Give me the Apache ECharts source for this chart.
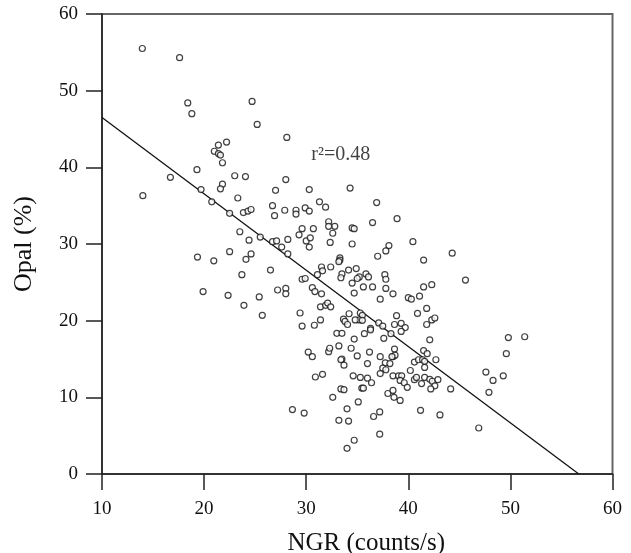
<!DOCTYPE html>
<html><head><meta charset="utf-8">
<script src="https://cdn.jsdelivr.net/npm/echarts@6/dist/echarts.min.js"></script>
<style>html,body{margin:0;padding:0;background:#fff}#c{width:631px;height:553px}</style>
</head><body><div id="c"></div>
<script>
const ngr = [13.95,17.6,18.4,18.8,24.7,25.2,28.1,22.2,21.4,21.0,21.4,21.6,21.8,19.3,
16.7,23.0,24.05,28.0,21.8,21.6,27.0,14.0,19.7,23.3,20.75,26.7,27.9,26.9,22.5,23.85,24.3,24.6,23.5,24.4,25.5,26.7,27.1,28.2,27.6,28.2,19.35,20.95,22.5,24.1,24.6,26.5,23.7,19.9,22.35,23.9,25.4,27.2,28.0,28.0,25.7,
34.3,30.3,31.3,31.9,36.9,29.0,29.0,29.9,30.3,32.2,32.8,32.2,36.5,38.9,34.5,34.7,29.6,30.7,32.6,29.3,30.0,30.4,30.3,32.35,34.5,40.45,38.1,37.8,37.0,44.3,41.5,33.3,33.3,33.2,31.5,31.6,31.1,32.4,34.15,34.9,33.5,33.4,35.2,35.0,35.85,36.1,37.7,37.8,45.6,29.6,29.9,34.5,35.6,36.5,37.8,38.5,41.5,42.3,30.6,30.85,31.5,34.7,37.25,40.0,40.3,41.1,29.4,31.4,31.9,32.1,32.4,31.4,29.6,30.8,33.65,33.8,34.05,34.2,35.3,35.5,35.2,35.5,34.8,36.3,37.1,37.5,38.85,38.65,39.3,39.7,40.9,41.8,42.3,42.6,41.8,
49.8,51.4,49.6,47.6,48.3,49.3,47.9,46.9,
33.0,33.5,34.7,35.7,36.3,37.6,39.3,38.3,42.1,30.2,30.6,32.2,32.3,33.2,34.4,35.0,36.2,33.5,33.4,33.7,36.0,37.25,37.75,38.2,38.65,38.5,38.7,38.4,37.5,37.8,37.25,40.6,41.0,41.4,41.6,41.5,41.85,42.7,41.6,40.2,30.9,31.6,34.6,35.3,36.0,36.4,38.5,39.05,39.35,39.2,39.6,39.9,40.6,40.8,41.3,41.6,42.1,42.35,42.9,42.6,42.2,44.15,33.4,33.7,35.45,35.6,32.6,35.1,38.0,38.5,38.6,39.2,28.65,29.8,34.0,33.2,34.15,37.2,36.6,41.2,43.1,37.2,34.7,34.0];
const opal = [55.5,54.3,48.4,47.0,48.6,45.6,43.9,43.3,42.9,42.1,41.8,41.6,40.6,39.7,
38.7,38.9,38.8,38.4,37.8,37.2,37.0,36.3,37.1,36.0,35.5,35.0,34.4,33.7,34.0,34.1,34.3,34.5,31.6,30.5,30.9,30.3,30.4,30.6,29.6,28.7,28.3,27.8,29.0,28.0,28.7,26.6,26.0,23.8,23.3,22.0,23.1,24.0,24.2,23.5,20.7,
37.3,37.1,35.5,34.8,35.4,34.4,33.9,34.7,34.3,32.9,32.3,32.3,32.8,33.3,32.1,32.0,32.0,32.0,31.4,31.2,30.4,30.8,29.6,30.2,30.0,30.3,29.8,29.1,28.4,28.8,27.9,28.2,27.9,27.7,27.0,26.5,26.0,27.0,26.6,26.8,26.1,25.6,25.7,25.5,26.1,25.7,26.0,25.4,25.3,25.4,25.5,24.9,24.4,24.4,24.2,23.5,24.4,24.7,24.3,23.8,23.5,23.6,22.8,23.0,22.8,23.2,21.0,21.8,22.0,22.3,21.8,20.1,19.3,19.4,20.2,19.9,19.5,20.9,21.0,20.7,20.1,20.05,20.1,19.0,19.7,19.3,20.65,19.5,19.65,19.1,20.95,21.6,20.1,20.35,19.5,
17.8,17.9,15.7,13.3,12.2,12.8,10.65,6.0,
18.35,18.35,17.6,18.3,18.8,17.7,18.6,18.3,17.5,15.9,15.3,15.95,16.4,16.7,16.4,15.4,15.9,15.0,14.9,14.2,14.4,15.3,14.5,14.4,16.3,15.3,15.5,15.3,13.8,13.6,13.1,14.6,14.9,14.9,14.7,16.1,15.7,14.9,13.9,13.5,12.65,13.0,12.8,12.6,12.5,11.9,12.8,12.8,12.8,12.2,11.9,11.3,12.3,12.6,11.8,12.6,12.35,12.1,12.3,11.5,11.1,11.1,11.1,11.0,11.2,11.2,10.0,9.4,10.5,10.9,10.0,9.6,8.4,7.95,8.5,7.0,6.9,8.1,7.5,8.3,7.7,5.2,4.4,3.35];
const fitX = [10, 56.7];
const fitY = [46.5, 0];
const xTicks = [10,20,30,40,50,60];
const yTicks = [0,10,20,30,40,50,60];
const r2Label = 'r²=0.48';
const r2Pos = [30.6, 41.7];

const pts = ngr.map((x,i)=>[x, opal[i]]);
const line = fitX.map((x,i)=>[x, fitY[i]]);
const serif = '"Liberation Serif", "DejaVu Serif", serif';
const chart = echarts.init(document.getElementById('c'), null, {renderer:'canvas'});
chart.setOption({
  animation:false,
  backgroundColor:'#fff',
  grid:{left:102, right:18.5, top:14, bottom:79, show:true, borderColor:'#666', borderWidth:2,
    containLabel:false, outerBoundsMode:'none'},
  xAxis:{type:'value', min:xTicks[0], max:xTicks[xTicks.length-1], interval:10,
    name:'NGR (counts/s)', nameLocation:'middle', nameGap:57,
    nameTextStyle:{fontFamily:serif, fontSize:25, color:'#111', padding:[0,0,0,18]},
    axisLine:{lineStyle:{color:'#222', width:1.5}},
    axisTick:{inside:false, length:16, lineStyle:{color:'#222', width:1.5}},
    axisLabel:{fontFamily:serif, fontSize:19, color:'#111', margin:26},
    splitLine:{show:false}},
  yAxis:{type:'value', min:yTicks[0], max:yTicks[yTicks.length-1], interval:10,
    name:'Opal (%)', nameLocation:'middle', nameGap:65,
    nameTextStyle:{fontFamily:serif, fontSize:26, color:'#111'},
    axisLine:{lineStyle:{color:'#222', width:1.5}},
    axisTick:{inside:false, length:16, lineStyle:{color:'#222', width:1.5}},
    axisLabel:{fontFamily:serif, fontSize:19, color:'#111', margin:24},
    splitLine:{show:false}},
  series:[
    {type:'scatter', data:pts, symbol:'circle', symbolSize:6,
      itemStyle:{color:'#fff', borderColor:'#111', borderWidth:1.2}, z:3},
    {type:'line', data:line, symbol:'none', lineStyle:{color:'#111', width:1.3}, z:2},
    {type:'scatter', data:[r2Pos], symbolSize:0,
      label:{show:true, formatter:r2Label, position:'right', offset:[-6,0],
        fontFamily:serif, fontSize:20, color:'#111'}, silent:true}
  ]
});
</script></body></html>
